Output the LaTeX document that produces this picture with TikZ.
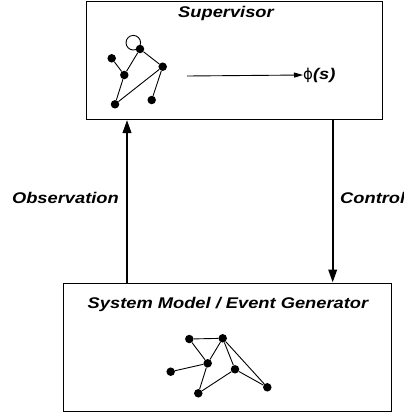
\documentclass[tikz,border=0pt]{standalone}
\usepackage{fontspec}
\setmainfont{Liberation Sans}
\newfontfamily\lblfont[FakeStretch=1.18]{Liberation Sans}
\newfontfamily\symfont{DejaVu Sans}
\usetikzlibrary{arrows.meta}
\begin{document}
\begin{tikzpicture}[x=1pt,y=-1pt,
  lbl/.style={font=\lblfont\fontsize{15.5}{18}\selectfont\bfseries\itshape, inner sep=0pt},
  boxstyle/.style={draw, line width=1pt},
  dot/.style={circle, fill=black, inner sep=0pt, minimum size=8.5pt},
  edge/.style={line width=0.9pt},
  bigarrow/.style={line width=2.2pt, -{Triangle[length=13pt,width=8.5pt]}},
  smallarrow/.style={line width=0.9pt, -{Triangle[length=9pt,width=5pt]}}]
\useasboundingbox (0,0) rectangle (404,416);
% boxes
\node[boxstyle, minimum width=295.5pt, minimum height=118pt, inner sep=0pt, anchor=north west] (sup) at (86,1) {};
\node[boxstyle, minimum width=328.5pt, minimum height=128pt, inner sep=0pt, anchor=north west] (sys) at (62.5,282.5) {};
\node[lbl] (suptitle) at (226,13) {Supervisor};
\node[lbl] (systitle) at (228,304) {System Model / Event Generator};
% supervisor graph
\node[dot] (s1) at (140,49) {};
\node[dot] (s2) at (111.7,58.3) {};
\node[dot] (s3) at (124.3,75) {};
\node[dot] (s4) at (162.7,66.7) {};
\node[dot] (s5) at (115,104.3) {};
\node[dot] (s6) at (151.7,100) {};
\draw[edge] (s2) -- (s3);
\draw[edge] (s3) -- (s1);
\draw[edge] (s1) -- (s4);
\draw[edge] (s4) -- (s5);
\draw[edge] (s3) -- (s5);
\draw[edge] (s4) -- (s6);
\draw[edge] (133.3,42.7) circle (7.3);
% phi arrow
\coordinate (astart) at (187,76);
\node[inner sep=0pt, anchor=west] (phi) at (303,75) {{\symfont\fontsize{15}{18}\selectfont ϕ}{\lblfont\fontsize{15.5}{18}\selectfont\bfseries\itshape (s)}};
\draw[smallarrow] (astart) -- (phi.west);
% system graph
\node[dot] (a) at (189.3,339) {};
\node[dot] (b) at (222.7,338.3) {};
\node[dot] (c) at (207.7,363.3) {};
\node[dot] (d) at (170.7,371.7) {};
\node[dot] (e) at (235,369.3) {};
\node[dot] (f) at (198.3,393.3) {};
\node[dot] (g) at (267.3,387.3) {};
\draw[edge] (a) -- (b);
\draw[edge] (a) -- (c);
\draw[edge] (b) -- (c);
\draw[edge] (c) -- (d);
\draw[edge] (c) -- (f);
\draw[edge] (f) -- (e);
\draw[edge] (b) -- (e);
\draw[edge] (b) -- (g);
\draw[edge] (e) -- (g);
% main arrows
\draw[bigarrow] (sys.north west -| 127,0) -- (sup.south west -| 127,0);
\draw[bigarrow] (sup.south west -| 332.7,0) -- (sys.north west -| 332.7,0);
\node[lbl, anchor=east] (obs) at (119,198) {Observation};
\node[lbl, anchor=west] (ctl) at (340,198) {Control};
\end{tikzpicture}
\end{document}
